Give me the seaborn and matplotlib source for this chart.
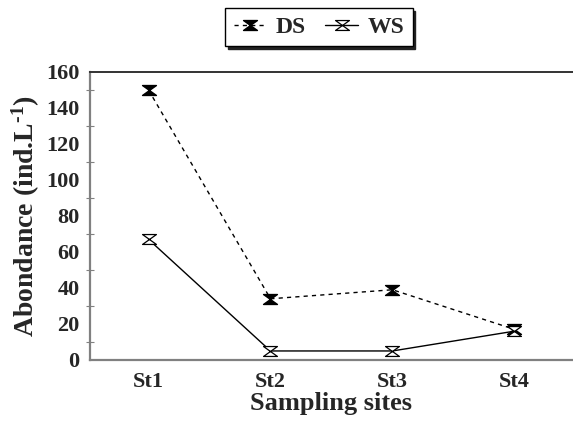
import matplotlib
matplotlib.use("Agg")
import matplotlib.pyplot as plt
from matplotlib.path import Path
from matplotlib.ticker import MultipleLocator
import seaborn as sns
import pandas as pd

sites = ["St1", "St2", "St3", "St4"]
ds_values = [150, 34, 39, 17]
ws_values = [67, 5, 5, 16]

df = pd.DataFrame({
    "site": sites * 2,
    "value": ds_values + ws_values,
    "season": ["DS"] * 4 + ["WS"] * 4,
})
df["x"] = df["site"].map({s: i for i, s in enumerate(sites)})

sns.set_style("white")
plt.rcParams["font.family"] = ["Liberation Serif", "DejaVu Serif"]
plt.rcParams["font.weight"] = "bold"
plt.rcParams["mathtext.fontset"] = "custom"
plt.rcParams["mathtext.rm"] = "Liberation Serif:bold"
plt.rcParams["mathtext.default"] = "rm"

hourglass = Path([(-1.4, 1), (1.4, 1), (-1.4, -1), (1.4, -1), (-1.4, 1)],
                 [Path.MOVETO, Path.LINETO, Path.LINETO, Path.LINETO, Path.CLOSEPOLY])

fig = plt.figure(figsize=(5.73, 4.21), dpi=100)
ax = fig.add_axes([0.157, 0.145, 0.843, 0.684])

sns.lineplot(data=df[df.season == "DS"], x="x", y="value", ax=ax, color="black",
             linestyle=(0, (3, 3)), linewidth=1.0, marker=hourglass, markersize=10,
             markerfacecolor="black", markeredgecolor="black", markeredgewidth=1.0,
             label="DS")
sns.lineplot(data=df[df.season == "WS"], x="x", y="value", ax=ax, color="black",
             linestyle="-", linewidth=1.0, marker=hourglass, markersize=10,
             markerfacecolor="white", markeredgecolor="black", markeredgewidth=0.9,
             label="WS")

ax.set_xlim(-0.48, 3.48)
ax.set_ylim(0, 160)
ax.set_xticks(range(len(sites)))
ax.set_xticklabels(sites)
ax.yaxis.set_major_locator(MultipleLocator(20))
ax.yaxis.set_minor_locator(MultipleLocator(10))

for s in ["left", "bottom"]:
    ax.spines[s].set_color("#808080")
    ax.spines[s].set_linewidth(1.6)
ax.spines["top"].set_color("#333333")
ax.spines["top"].set_linewidth(1.4)
ax.spines["right"].set_visible(False)

ax.tick_params(axis="x", which="major", direction="inout", length=9, width=0.8,
               color="#808080", labelsize=16, pad=4)
ax.tick_params(axis="y", which="major", direction="inout", length=9, width=0.8,
               color="#808080", labelsize=16, pad=3)
ax.tick_params(axis="y", which="minor", direction="inout", length=6, width=0.8,
               color="#808080", left=True)
for lab in ax.get_xticklabels() + ax.get_yticklabels():
    lab.set_fontweight("bold")

ax.set_xlabel("Sampling sites", fontsize=19, fontweight="bold", labelpad=0)
ax.set_ylabel("Abondance (ind.L$^{\u2010 1}$)", fontsize=20, fontweight="bold", labelpad=3)

leg = ax.legend(loc="center", bbox_to_anchor=(0.474, 1.155), ncol=2, frameon=True,
                fancybox=False, shadow={"color": "#222222", "alpha": 1.0},
                edgecolor="black", handlelength=1.4, handletextpad=0.4,
                columnspacing=0.8, borderpad=0.35,
                prop={"family": "Liberation Serif", "weight": "bold", "size": 17})
leg.get_frame().set_linewidth(1.0)

fig.savefig("out.png", dpi=100)
